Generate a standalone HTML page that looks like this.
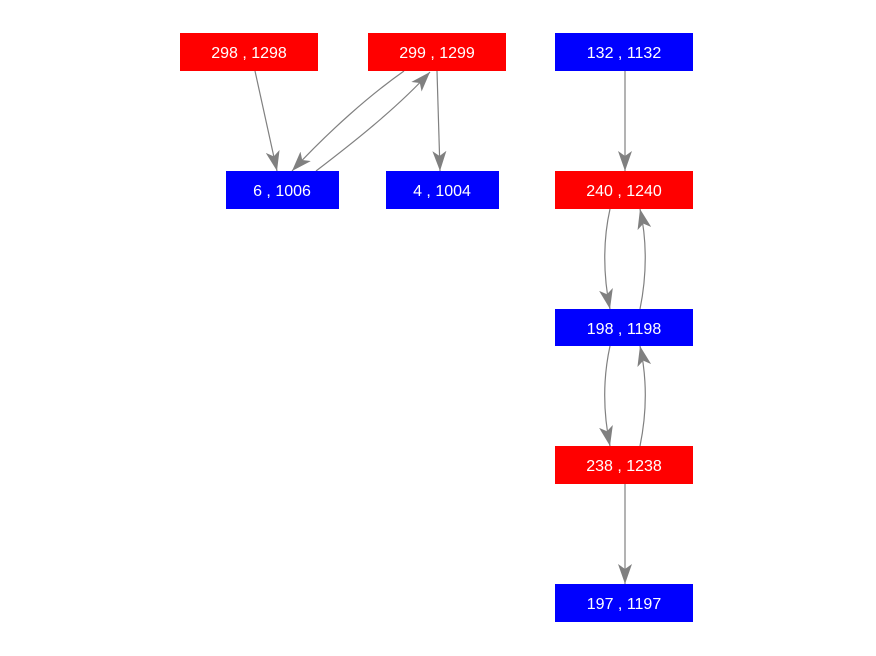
<!DOCTYPE html>
<html><head><style>body{margin:0;background:#fff}svg{display:block}</style></head><body>
<svg width="876" height="656" xmlns="http://www.w3.org/2000/svg" font-family="Liberation Sans, Arial, sans-serif" font-size="16">
<defs><marker id="a" markerWidth="10" markerHeight="10" refX="9" refY="5" orient="auto" markerUnits="userSpaceOnUse" viewBox="0 0 10 10"><path d="M0,0 L10,5 L0,10 L3,5 Z" fill="#808080" transform="scale(1)"/></marker>
<marker id="b" markerWidth="20" markerHeight="14" refX="20" refY="7" orient="auto" markerUnits="userSpaceOnUse"><path d="M0,0 L20,7 L0,14 L5,7 Z" fill="#808080"/></marker></defs>
<g stroke="#808080" stroke-width="1.2" fill="none" marker-end="url(#b)">
<path d="M255,71 L277,171"/>
<path d="M404,71 C370,95 330,130 292,171"/>
<path d="M316,171 C350,145 395,110 430,72"/>
<path d="M437,71 L440,171"/>
<path d="M625,71 L625,171"/>
<path d="M610,209 C603,240 603,275 610,309"/>
<path d="M640,309 C647,275 647,240 640,209"/>
<path d="M610,346 C603,378 603,412 610,446"/>
<path d="M640,446 C647,412 647,378 640,346"/>
<path d="M625,484 L625,584"/>
</g>
<g>
<rect x="180" y="33" width="138" height="38" fill="#f00"/>
<rect x="368" y="33" width="138" height="38" fill="#f00"/>
<rect x="555" y="33" width="138" height="38" fill="#00f"/>
<rect x="226" y="171" width="113" height="38" fill="#00f"/>
<rect x="386" y="171" width="113" height="38" fill="#00f"/>
<rect x="555" y="171" width="138" height="38" fill="#f00"/>
<rect x="555" y="309" width="138" height="37" fill="#00f"/>
<rect x="555" y="446" width="138" height="38" fill="#f00"/>
<rect x="555" y="584" width="138" height="38" fill="#00f"/>
</g>
<g fill="#fff" text-anchor="middle">
<text x="249" y="58">298 , 1298</text>
<text x="437" y="58">299 , 1299</text>
<text x="624" y="58">132 , 1132</text>
<text x="282" y="196">6 , 1006</text>
<text x="442" y="196">4 , 1004</text>
<text x="624" y="196">240 , 1240</text>
<text x="624" y="334">198 , 1198</text>
<text x="624" y="471">238 , 1238</text>
<text x="624" y="609">197 , 1197</text>
</g>
</svg>
</body></html>
